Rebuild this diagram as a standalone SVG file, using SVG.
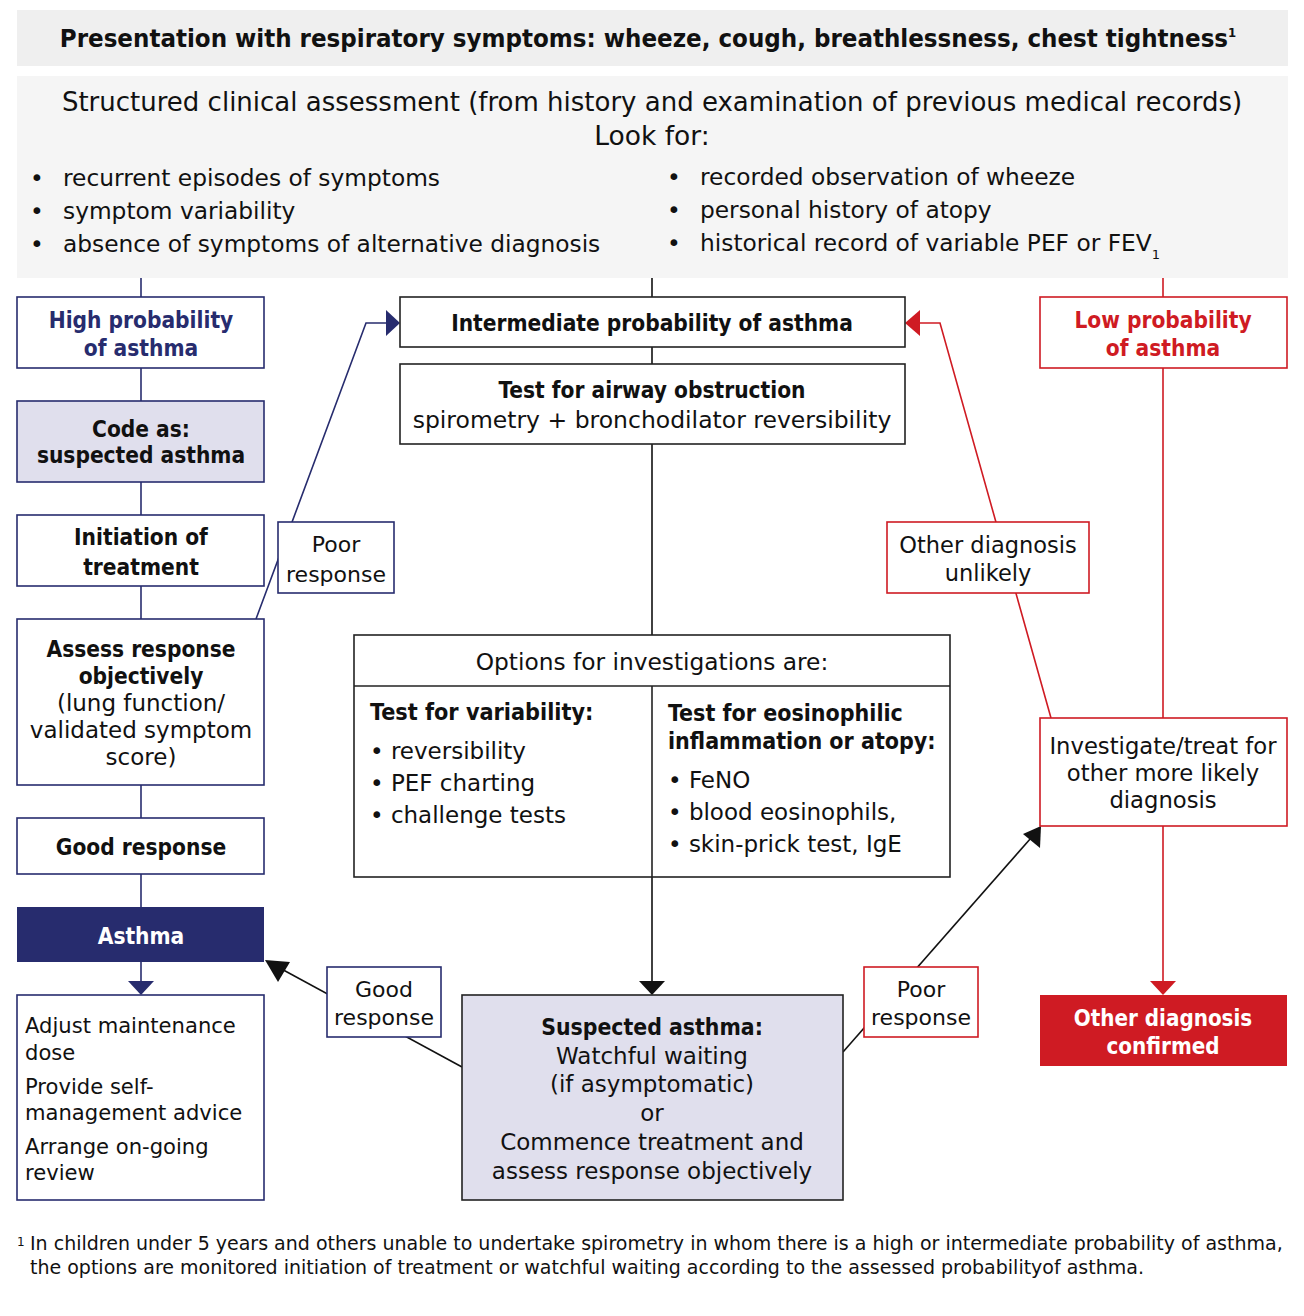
<svg xmlns="http://www.w3.org/2000/svg" width="1304" height="1316" viewBox="0 0 1304 1316">
<defs>
<style>
text{font-family:"DejaVu Sans","Liberation Sans",Arial,sans-serif;fill:#111;}
.c{text-anchor:middle;}
.t{font-size:23px;}
.b{font-family:"DejaVu Sans Condensed","Liberation Sans",Arial,sans-serif;font-weight:bold;font-size:22.5px;}
.blue{fill:#272c6e;}
.red{fill:#cf1b23;}
.w{fill:#fff;}
.bx{fill:#fff;stroke-width:1.6;}
.bb{stroke:#272c6e;}
.br{stroke:#cf1b23;}
.bk{stroke:#222;}
.ln{fill:none;stroke-width:1.6;}
</style>
</defs>
<rect width="1304" height="1316" fill="#fff"/>

<g id="presentation">
<rect x="17" y="10" width="1271" height="56" fill="#efefef"/>
<text x="648" y="47" class="c b" style="font-size:25.6px">Presentation with respiratory symptoms:  wheeze, cough, breathlessness, chest tightness<tspan font-size="13" dy="-10">1</tspan></text>
</g>

<g id="assessment">
<rect x="17" y="76" width="1271" height="202" fill="#f5f5f5"/>
<text x="652" y="111" class="c" font-size="26">Structured clinical assessment (from history and examination of previous medical records)</text>
<text x="652" y="145" class="c" font-size="26.5">Look for:</text>
<g font-size="23.3">
<text x="30" y="186">•</text><text x="63" y="186">recurrent episodes of symptoms</text>
<text x="30" y="219">•</text><text x="63" y="219">symptom variability</text>
<text x="30" y="252">•</text><text x="63" y="252">absence of symptoms of alternative diagnosis</text>
<text x="667" y="185">•</text><text x="700" y="185">recorded observation of wheeze</text>
<text x="667" y="218">•</text><text x="700" y="218">personal history of atopy</text>
<text x="667" y="251">•</text><text x="700" y="251">historical record of variable PEF or FEV<tspan font-size="13" dy="8">1</tspan></text>
</g>
</g>

<g id="connectors">
<g class="ln" stroke="#272c6e">
<line x1="141" y1="278" x2="141" y2="297"/>
<line x1="141" y1="368" x2="141" y2="401"/>
<line x1="141" y1="482" x2="141" y2="515"/>
<line x1="141" y1="586" x2="141" y2="619"/>
<line x1="141" y1="785" x2="141" y2="818"/>
<line x1="141" y1="874" x2="141" y2="907"/>
<line x1="141" y1="962" x2="141" y2="982"/>
<polyline points="256,619 366,323 386,323"/>
</g>
<polygon points="128,981 154,981 141,995" fill="#272c6e"/>
<polygon points="386,310 386,336 400,323" fill="#272c6e"/>

<g class="ln" stroke="#111">
<line x1="652" y1="278" x2="652" y2="297"/>
<line x1="652" y1="347" x2="652" y2="364"/>
<line x1="652" y1="444" x2="652" y2="635"/>
<line x1="652" y1="877" x2="652" y2="982"/>
<line x1="462" y1="1067" x2="276" y2="966"/>
<line x1="843" y1="1052" x2="1031" y2="838"/>
</g>
<polygon points="639,981 665,981 652,995" fill="#111"/>
<polygon points="265,960 290,962 278,982" fill="#111"/>
<polygon points="1041,826 1023,834 1040,848" fill="#111"/>

<g class="ln" stroke="#cf1b23">
<line x1="1163" y1="278" x2="1163" y2="297"/>
<line x1="1163" y1="368" x2="1163" y2="718"/>
<line x1="1163" y1="826" x2="1163" y2="982"/>
<polyline points="1051,718 940,323 920,323"/>
</g>
<polygon points="1150,981 1176,981 1163,995" fill="#cf1b23"/>
<polygon points="920,310 920,336 905,323" fill="#cf1b23"/>
</g>

<g id="high-probability">
<rect x="17" y="297" width="247" height="71" class="bx bb"/>
<text x="141" y="328" class="c b blue">High probability</text>
<text x="141" y="356" class="c b blue">of asthma</text>
</g>

<g id="code-suspected">
<rect x="17" y="401" width="247" height="81" class="bx bb" style="fill:#e0dfed"/>
<text x="141" y="437" class="c b">Code as:</text>
<text x="141" y="463" class="c b">suspected asthma</text>
</g>

<g id="initiation">
<rect x="17" y="515" width="247" height="71" class="bx bb"/>
<text x="141" y="545" class="c b">Initiation of</text>
<text x="141" y="575" class="c b">treatment</text>
</g>

<g id="assess-response">
<rect x="17" y="619" width="247" height="166" class="bx bb"/>
<text x="141" y="657" class="c b">Assess response</text>
<text x="141" y="684" class="c b">objectively</text>
<text x="141" y="711" class="c t">(lung function/</text>
<text x="141" y="738" class="c t">validated symptom</text>
<text x="141" y="765" class="c t">score)</text>
</g>

<g id="good-response-left">
<rect x="17" y="818" width="247" height="56" class="bx bb"/>
<text x="141" y="855" class="c b">Good response</text>
</g>

<g id="asthma">
<rect x="17" y="907" width="247" height="55" fill="#272c6e"/>
<text x="141" y="944" class="c b w">Asthma</text>
</g>

<g id="management">
<rect x="17" y="995" width="247" height="205" class="bx bb"/>
<g font-size="21.1">
<text x="25" y="1033">Adjust maintenance</text>
<text x="25" y="1060">dose</text>
<text x="25" y="1094">Provide self-</text>
<text x="25" y="1120">management advice</text>
<text x="25" y="1154">Arrange on-going</text>
<text x="25" y="1180">review</text>
</g>
</g>

<g id="poor-response-blue">
<rect x="278" y="522" width="116" height="71" class="bx bb"/>
<text x="336" y="552" class="c" font-size="22">Poor</text>
<text x="336" y="582" class="c" font-size="22">response</text>
</g>

<g id="intermediate">
<rect x="400" y="297" width="505" height="50" class="bx bk"/>
<text x="652" y="331" class="c b">Intermediate probability of asthma</text>
</g>

<g id="airway-test">
<rect x="400" y="364" width="505" height="80" class="bx bk"/>
<text x="652" y="398" class="c b">Test for airway obstruction</text>
<text x="652" y="428" class="c" font-size="23.5">spirometry + bronchodilator reversibility</text>
</g>

<g id="options">
<rect x="354" y="635" width="596" height="242" class="bx bk"/>
<line x1="354" y1="686" x2="950" y2="686" class="ln" stroke="#222"/>
<line x1="652" y1="686" x2="652" y2="877" class="ln" stroke="#222"/>
<text x="652" y="670" class="c" font-size="23.3">Options for investigations are:</text>
<text x="370" y="720" class="b" style="font-size:23.2px">Test for variability:</text>
<g class="t">
<text x="370" y="759">• reversibility</text>
<text x="370" y="791">• PEF charting</text>
<text x="370" y="823">• challenge tests</text>
</g>
<text x="668" y="721" class="b" style="font-size:23px">Test for eosinophilic</text>
<text x="668" y="749" class="b" style="font-size:23px">inflammation or atopy:</text>
<g class="t">
<text x="668" y="788">• FeNO</text>
<text x="668" y="820">• blood eosinophils,</text>
<text x="668" y="852">• skin-prick test, IgE</text>
</g>
</g>

<g id="good-response-label">
<rect x="327" y="967" width="114" height="70" class="bx bb"/>
<text x="384" y="997" class="c" font-size="22">Good</text>
<text x="384" y="1025" class="c" font-size="22">response</text>
</g>

<g id="suspected-asthma">
<rect x="462" y="995" width="381" height="205" class="bx bk" style="fill:#e0dfed"/>
<text x="652" y="1035" class="c b" style="font-size:22.8px">Suspected asthma:</text>
<text x="652" y="1064" class="c t">Watchful waiting</text>
<text x="652" y="1092" class="c t">(if asymptomatic)</text>
<text x="652" y="1121" class="c t">or</text>
<text x="652" y="1150" class="c t">Commence treatment and</text>
<text x="652" y="1179" class="c t">assess response objectively</text>
</g>

<g id="poor-response-red">
<rect x="864" y="967" width="114" height="70" class="bx br"/>
<text x="921" y="997" class="c" font-size="22">Poor</text>
<text x="921" y="1025" class="c" font-size="22">response</text>
</g>

<g id="low-probability">
<rect x="1040" y="297" width="247" height="71" class="bx br"/>
<text x="1163" y="328" class="c b red">Low probability</text>
<text x="1163" y="356" class="c b red">of asthma</text>
</g>

<g id="other-unlikely">
<rect x="887" y="522" width="202" height="71" class="bx br"/>
<text x="988" y="553" class="c" font-size="22.5">Other diagnosis</text>
<text x="988" y="581" class="c" font-size="22.5">unlikely</text>
</g>

<g id="investigate">
<rect x="1040" y="718" width="247" height="108" class="bx br"/>
<text x="1163" y="754" class="c" font-size="22.7">Investigate/treat for</text>
<text x="1163" y="781" class="c" font-size="22.7">other more likely</text>
<text x="1163" y="808" class="c" font-size="22.7">diagnosis</text>
</g>

<g id="other-confirmed">
<rect x="1040" y="995" width="247" height="71" fill="#cf1b23"/>
<text x="1163" y="1026" class="c b w" style="font-size:22.2px">Other diagnosis</text>
<text x="1163" y="1054" class="c b w" style="font-size:22.2px">confirmed</text>
</g>

<g id="footnote" font-size="19">
<text x="17" y="1246" font-size="12">1</text>
<text x="30" y="1250">In children under 5 years and others unable to undertake spirometry in whom there is a high or intermediate probability of asthma,</text>
<text x="30" y="1274">the options are monitored initiation of treatment or watchful waiting according to the assessed probabilityof asthma.</text>
</g>
</svg>
